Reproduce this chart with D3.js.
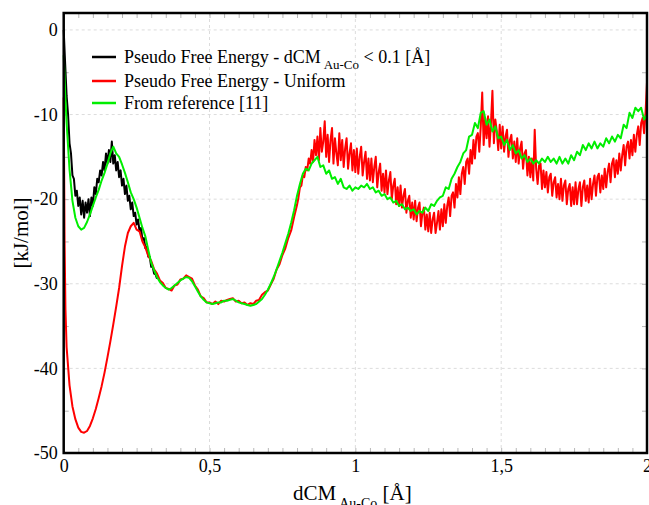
<!DOCTYPE html>
<html>
<head>
<meta charset="utf-8">
<script src="https://cdn.jsdelivr.net/npm/d3@7"></script>
<style>
  html, body { margin: 0; padding: 0; background: #fff; }
  svg { display: block; }
  text { font-family: "Liberation Serif", "DejaVu Serif", serif; fill: #000; }
</style>
</head>
<body>
<svg id="chart" width="649" height="505"></svg>
<script>
// ---- data (x in Å, values in kJ/mol) ----
const xTicks = [0, 0.5, 1, 1.5, 2];
const yTicks = [0, -10, -20, -30, -40, -50];
const seriesNames = ["Pseudo Free Energy - dCM", "Pseudo Free Energy - Uniform", "From reference [11]"];
const seriesColors = ["#000000", "#ff0000", "#00ee00"];

// sample grids
const gridX = d3.range(1, 201).map(i => i / 100);      // 0.01 .. 2.00, step 0.01
const fineBlackX = d3.range(1, 65).map(i => i / 200);  // 0.005 .. 0.320, step 0.005
const fineRedX = d3.range(161, 401).map(i => i / 200); // 0.805 .. 2.000, step 0.005

// first samples at / near x = 0
const blackHead = [[0, 0]];
const redHead = [[0, -8], [0.003, -25], [0.006, -33]];
const greenHead = [[0, -3], [0.005, -7.5]];

// Pseudo Free Energy - dCM < 0.1 (visible part, 0.005 .. 0.32)
const blackValues = [
  -4.0, -7.8, -10.0, -13.4, -14.6, -17.2, -17.6, -19.6, -19.0, -20.8,
  -19.8, -21.8, -20.2, -22.2, -20.4, -21.6, -20.0, -22.0, -19.8, -20.8,
  -18.6, -19.4, -17.6, -18.0, -16.6, -17.2, -15.6, -16.6, -14.6, -15.8,
  -14.2, -15.6, -13.2, -15.8, -14.8, -16.6, -15.6, -17.4, -16.6, -18.4,
  -17.6, -19.4, -18.4, -20.2, -19.6, -21.2, -20.4, -22.0, -21.6, -23.0,
  -22.4, -23.8, -23.4, -24.8, -24.6, -25.8, -25.6, -26.8, -26.8, -28.0,
  -28.0, -28.8, -28.9, -29.4
];

// Pseudo Free Energy - Uniform, smooth part (0.01 .. 0.80, step 0.01)
const redValues = [
  -37.5, -42.0, -44.5, -46.0, -47.0, -47.5, -47.6, -47.4, -46.8, -45.9,
  -44.8, -43.5, -42.1, -40.5, -38.7, -36.8, -34.8, -32.7, -30.5, -27.9,
  -25.6, -24.0, -23.2, -22.8, -23.6, -23.8, -25.0, -25.7, -26.7, -27.3,
  -28.3, -28.8, -29.6, -29.9, -30.5, -30.6, -30.8, -30.2, -30.1, -29.5,
  -29.4, -29.0, -29.2, -29.4, -30.2, -30.7, -31.5, -31.7, -32.2, -32.2,
  -32.4, -32.1, -32.4, -32.0, -32.1, -31.9, -31.8, -31.7, -32.1, -32.0,
  -32.3, -32.2, -32.5, -32.3, -32.4, -32.0, -31.9, -31.3, -31.0, -30.8,
  -30.1, -29.4, -28.3, -27.7, -26.6, -25.8, -24.6, -23.7, -22.1, -20.7
];

// Pseudo Free Energy - Uniform, noisy part (0.805 .. 2.000, step 0.005)
const redNoisyValues = [
  -19.8, -18.6, -18.4, -17.2, -17.4, -16.2, -16.6, -15.2, -15.8, -14.2,
  -15.6, -13.0, -14.8, -12.6, -15.4, -11.6, -14.4, -13.2, -10.8, -15.0,
  -12.4, -15.6, -13.0, -11.6, -15.8, -12.8, -14.6, -16.0, -12.2, -15.4,
  -13.0, -16.2, -14.0, -12.8, -16.4, -14.6, -13.4, -16.6, -14.2, -16.8,
  -14.0, -17.0, -15.0, -13.8, -17.2, -15.6, -14.4, -17.6, -15.2, -17.8,
  -15.2, -18.0, -16.2, -15.0, -18.6, -16.8, -15.8, -19.0, -17.0, -19.2,
  -16.6, -19.4, -17.8, -16.8, -20.0, -18.4, -17.6, -20.6, -18.6, -20.8,
  -18.4, -21.0, -19.6, -18.8, -21.6, -20.2, -19.6, -22.2, -20.4, -22.4,
  -20.2, -22.6, -21.0, -20.4, -23.2, -21.6, -21.0, -23.6, -21.8, -23.8,
  -21.6, -24.0, -22.4, -21.6, -24.0, -22.8, -21.4, -23.6, -21.2, -23.2,
  -20.6, -22.8, -20.8, -19.8, -22.0, -19.6, -19.2, -21.0, -18.2, -19.8,
  -17.4, -19.4, -17.0, -16.2, -18.2, -15.6, -15.2, -17.0, -14.2, -15.8,
  -13.0, -15.2, -12.6, -12.2, -14.4, -11.4, -7.4, -13.6, -10.4, -12.8,
  -10.2, -13.8, -11.0, -7.2, -13.4, -10.6, -12.0, -14.2, -11.2, -14.0,
  -11.4, -14.4, -12.6, -11.8, -15.0, -13.0, -12.4, -15.2, -13.2, -15.6,
  -12.8, -15.8, -14.0, -13.2, -16.4, -14.6, -14.2, -17.2, -15.0, -17.4,
  -15.2, -17.8, -11.8, -16.4, -18.2, -16.0, -15.8, -18.8, -16.6, -18.6,
  -16.8, -19.2, -17.4, -17.0, -19.6, -18.0, -17.4, -19.8, -18.2, -20.0,
  -17.6, -20.2, -18.4, -17.8, -20.6, -18.8, -18.2, -20.8, -18.6, -20.6,
  -18.0, -20.6, -18.8, -18.0, -20.8, -18.6, -17.8, -20.2, -18.4, -20.4,
  -17.6, -20.0, -18.2, -17.2, -19.6, -17.4, -17.0, -19.2, -17.2, -18.8,
  -16.4, -18.6, -16.8, -15.8, -18.0, -15.8, -15.2, -17.4, -15.4, -17.0,
  -14.6, -16.6, -14.8, -13.6, -16.0, -13.8, -13.2, -15.2, -13.0, -14.8,
  -12.4, -14.4, -12.4, -11.4, -13.6, -11.0, -10.4, -12.2, -9.8, -6.2
];

// From reference [11] (0.01 .. 2.00, step 0.01)
const greenValues = [
  -11.0, -16.5, -20.2, -22.2, -23.2, -23.6, -23.4, -22.7, -21.8, -20.8,
  -19.8, -18.9, -17.8, -16.9, -15.8, -14.6, -13.8, -14.6, -15.0, -15.9,
  -16.9, -18.0, -19.2, -20.0, -21.0, -22.2, -23.4, -24.4, -26.0, -27.5,
  -28.4, -29.2, -29.8, -30.2, -30.5, -30.7, -30.5, -30.2, -29.9, -29.6,
  -29.4, -29.2, -29.3, -29.7, -30.3, -30.9, -31.5, -31.9, -32.2, -32.3,
  -32.4, -32.3, -32.2, -32.2, -32.0, -32.0, -31.9, -31.8, -32.0, -32.2,
  -32.3, -32.4, -32.5, -32.6, -32.5, -32.4, -32.1, -31.8, -31.3, -30.7,
  -30.0, -29.2, -28.3, -27.3, -26.3, -25.2, -24.1, -22.8, -21.3, -19.6,
  -18.2, -17.0, -16.4, -16.6, -15.8, -15.4, -15.0, -16.2, -16.0, -17.0,
  -16.6, -17.6, -17.4, -18.2, -17.6, -18.6, -18.8, -18.4, -19.0, -18.6,
  -18.8, -18.4, -18.6, -18.2, -18.8, -18.6, -19.2, -19.0, -19.6, -19.4,
  -20.0, -19.8, -20.4, -20.2, -20.8, -20.6, -21.2, -21.0, -21.4, -21.2,
  -21.8, -21.4, -21.6, -21.0, -21.4, -20.6, -20.8, -20.2, -19.8, -19.6,
  -18.6, -18.8, -17.6, -17.0, -16.2, -15.6, -14.6, -14.2, -12.6, -12.4,
  -11.0, -11.6, -9.8, -9.6, -11.2, -10.6, -12.0, -11.4, -12.8, -12.6,
  -13.6, -13.0, -14.2, -13.6, -14.6, -14.2, -15.2, -14.8, -15.6, -15.2,
  -15.8, -15.4, -15.8, -15.2, -15.6, -15.0, -15.6, -15.2, -15.8, -15.0,
  -15.8, -15.2, -15.8, -14.8, -15.4, -14.4, -14.8, -13.6, -14.2, -13.4,
  -14.0, -13.2, -14.0, -13.4, -13.8, -12.8, -13.4, -12.6, -13.2, -12.4,
  -12.8, -11.2, -11.6, -9.8, -10.4, -9.2, -9.6, -9.2, -10.6, -10.0
];

// ---- build ----
const svg = d3.select("#chart");
const L = 63.7, R = 647, T = 13, B = 453;
const x = d3.scaleLinear().domain([0, 2]).range([L, R]);
const y = d3.scaleLinear().domain([-50, 2]).range([B, T]);

const zip = (xs, vals) => vals.map((v, i) => [xs[i], v]);
const series = [
  { name: seriesNames[0], color: seriesColors[0],
    pts: blackHead.concat(zip(fineBlackX, blackValues)) },
  { name: seriesNames[1], color: seriesColors[1],
    pts: redHead.concat(zip(gridX, redValues), zip(fineRedX, redNoisyValues)) },
  { name: seriesNames[2], color: seriesColors[2],
    pts: greenHead.concat(zip(gridX, greenValues)) }
];

// grid
const grid = svg.append("g");
grid.selectAll("line.gx").data(xTicks.filter(d => d > 0 && d < 2)).enter().append("line")
  .attr("x1", d => x(d)).attr("x2", d => x(d)).attr("y1", T).attr("y2", B)
  .attr("stroke", "#dcdcdc").attr("stroke-width", 1).attr("stroke-dasharray", "3,3");
grid.selectAll("line.gy").data(yTicks.filter(d => d > -50)).enter().append("line")
  .attr("x1", L).attr("x2", R).attr("y1", d => y(d)).attr("y2", d => y(d))
  .attr("stroke", "#dcdcdc").attr("stroke-width", 1).attr("stroke-dasharray", "3,3");

// minor/major ticks (inward) on all sides
const xMinor = d3.range(1, 40).map(i => i * 0.05);
const yMinor = d3.range(-45, 0, 5);
function tickAxis(axisFn, scale, values, size, transform) {
  const g = svg.append("g").attr("transform", transform)
    .call(axisFn(scale).tickValues(values).tickSize(size).tickFormat(""));
  g.select(".domain").remove();
  g.selectAll(".tick line").attr("stroke", "#b8b8b8").attr("stroke-width", 1);
  return g;
}
tickAxis(d3.axisTop, x, xMinor, 5, `translate(0,${B})`);
tickAxis(d3.axisBottom, x, xMinor, 5, `translate(0,${T})`);
tickAxis(d3.axisRight, y, yMinor, 5, `translate(${L},0)`);
tickAxis(d3.axisLeft, y, yMinor, 5, `translate(${R},0)`);

// lines
const line = d3.line().x(d => x(d[0])).y(d => y(d[1]));
const plot = svg.append("g");
series.forEach(s => {
  plot.append("path").datum(s.pts)
    .attr("d", line).attr("fill", "none")
    .attr("stroke", s.color).attr("stroke-width", 2)
    .attr("stroke-linejoin", "round");
});

// frame
svg.append("rect").attr("x", L).attr("y", T).attr("width", R - L).attr("height", B - T)
  .attr("fill", "none").attr("stroke", "#000").attr("stroke-width", 2.5);

// tick labels
const xAx = svg.append("g").attr("transform", `translate(0,${B})`)
  .call(d3.axisBottom(x).tickValues(xTicks).tickSize(0).tickPadding(6)
    .tickFormat(d => String(d).replace(".", ",")));
xAx.select(".domain").remove();
xAx.selectAll("text").attr("font-size", 18).attr("font-family", "Liberation Serif, serif");

const yAx = svg.append("g").attr("transform", `translate(${L},0)`)
  .call(d3.axisLeft(y).tickValues(yTicks).tickSize(0).tickPadding(6)
    .tickFormat(d => String(d)));
yAx.select(".domain").remove();
yAx.selectAll("text").attr("font-size", 18).attr("font-family", "Liberation Serif, serif");

// axis titles
svg.append("text").attr("transform", "translate(28,233) rotate(-90)")
  .attr("text-anchor", "middle").attr("font-size", 21).text("[kJ/mol]");

const xt = svg.append("text").attr("x", 293).attr("y", 500).attr("font-size", 21);
xt.append("tspan").text("dCM");
xt.append("tspan").attr("font-size", 14).attr("dy", 8).attr("dx", 3).text("Au-Co");
xt.append("tspan").attr("dy", -8).text(" [Å]");

// legend
const lg = svg.append("g");
const legY = [57, 81, 103];
series.forEach((s, i) => {
  lg.append("line").attr("x1", 92).attr("x2", 116).attr("y1", legY[i]).attr("y2", legY[i])
    .attr("stroke", s.color).attr("stroke-width", 2.5);
  const t = lg.append("text").attr("x", 124).attr("y", legY[i] + 6).attr("font-size", 18);
  t.append("tspan").text(s.name);
  if (i === 0) {
    t.append("tspan").attr("font-size", 13).attr("dy", 6).attr("dx", 3).text("Au-Co");
    t.append("tspan").attr("dy", -6).text(" < 0.1 [Å]");
  }
});
</script>
</body>
</html>
